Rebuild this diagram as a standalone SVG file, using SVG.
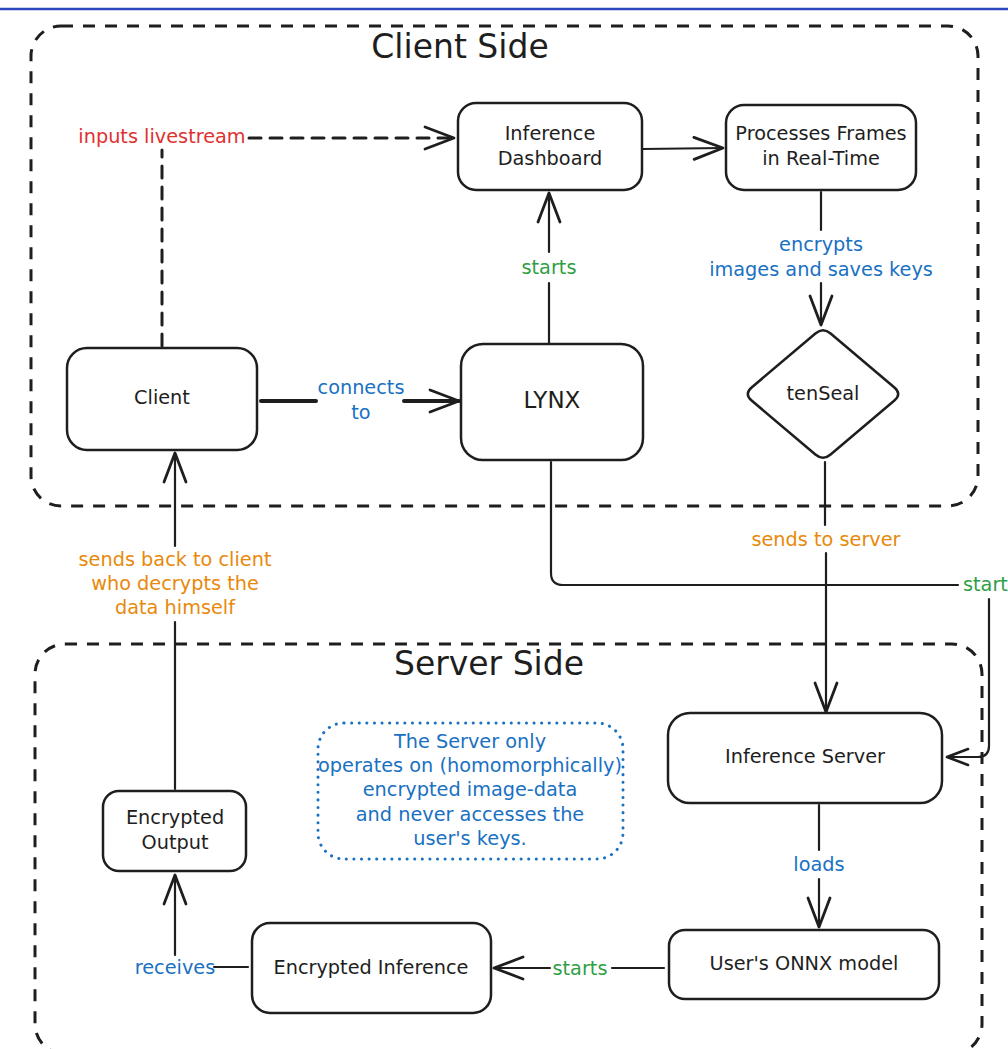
<svg xmlns="http://www.w3.org/2000/svg" width="1008" height="1049" viewBox="0 0 1008 1049">
<style>
text{font-family:"DejaVu Sans","Noto Sans",sans-serif;font-size:19.3px;text-anchor:middle;dominant-baseline:central;fill:#1e1e1e}
.node{fill:#fff;stroke:#1e1e1e;stroke-width:2.5}
.cont{fill:none;stroke:#1e1e1e;stroke-width:3;stroke-dasharray:12 10}
.edge{fill:none;stroke:#1e1e1e;stroke-width:2.2;stroke-linecap:round;stroke-linejoin:round}
.dash{stroke-dasharray:12 9;stroke-width:3}
.blue{fill:#1971c2}.green{fill:#2f9e44}.orange{fill:#e8890c}.red{fill:#e03131}
.title{font-size:33px}
</style>
<defs>
<marker id="arr" markerUnits="userSpaceOnUse" markerWidth="60" markerHeight="60" refX="0" refY="0" viewBox="-30 -30 60 60" orient="auto" overflow="visible">
<path d="M-29,-11 L0,0 L-29,11" fill="none" stroke="#1e1e1e" stroke-width="2.8" stroke-linecap="round" stroke-linejoin="round" stroke-dasharray="none"/>
</marker>
<marker id="arrs" markerUnits="userSpaceOnUse" markerWidth="60" markerHeight="60" refX="0" refY="0" viewBox="-30 -30 60 60" orient="auto" overflow="visible">
<path d="M-21,-8 L0,0 L-21,8" fill="none" stroke="#1e1e1e" stroke-width="2.6" stroke-linecap="round" stroke-linejoin="round" stroke-dasharray="none"/>
</marker>
</defs>
<rect width="1008" height="1049" fill="#fff"/>
<line x1="0" y1="9" x2="1008" y2="9" stroke="#2b48bf" stroke-width="2.5"/>

<g id="client-side">
<rect class="cont" x="31" y="26" width="947" height="480" rx="30"/>
<text class="title" x="460" y="46">Client Side</text>
</g>
<g id="server-side">
<rect class="cont" x="35" y="644" width="947" height="410" rx="30"/>
<text class="title" x="489" y="663">Server Side</text>
</g>

<g id="connectors">
<path class="edge dash" d="M162,346 V150"/>
<path class="edge dash" d="M249,138 H454" marker-end="url(#arr)"/>
<text class="red" x="162" y="136">inputs livestream</text>

<path class="edge" d="M643,149 L723,148" marker-end="url(#arr)"/>

<path class="edge" d="M821,192 V230"/>
<path class="edge" d="M821,283 V325" marker-end="url(#arr)"/>
<text class="blue"><tspan x="821" y="244">encrypts</tspan><tspan x="821" y="269">images and saves keys</tspan></text>

<path class="edge" style="stroke-width:4" d="M261,401 H316"/>
<path class="edge" style="stroke-width:4" d="M404,401 H459" marker-end="url(#arr)"/>
<text class="blue"><tspan x="361" y="387">connects</tspan><tspan x="361" y="412">to</tspan></text>

<path class="edge" d="M549,343 V283"/>
<path class="edge" d="M549,252 V193" marker-end="url(#arr)"/>
<text class="green" x="549" y="267">starts</text>

<path class="edge" d="M825,462 V525"/>
<path class="edge" d="M826,553 V712" marker-end="url(#arr)"/>
<text class="orange" x="826" y="539">sends to server</text>

<path class="edge" d="M551,462 V573 Q551,585 563,585 H958"/>
<path class="edge" d="M989,599 V746 Q989,757 978,757 H947" marker-end="url(#arrs)"/>
<text class="green" x="963" y="584" style="text-anchor:start">start</text>

<path class="edge" d="M819,805 V850"/>
<path class="edge" d="M819,879 V927" marker-end="url(#arr)"/>
<text class="blue" x="819" y="864">loads</text>

<path class="edge" d="M664,968 H612"/>
<path class="edge" d="M550,968 H494" marker-end="url(#arr)"/>
<text class="green" x="580" y="968">starts</text>

<path class="edge" d="M248,967 H214"/>
<path class="edge" d="M175,955 V875" marker-end="url(#arr)"/>
<text class="blue" x="175" y="967">receives</text>

<path class="edge" d="M175,789 V622"/>
<path class="edge" d="M175,546 V453" marker-end="url(#arr)"/>
<text class="orange"><tspan x="175" y="559">sends back to client</tspan><tspan x="175" y="583">who decrypts the</tspan><tspan x="175" y="607">data himself</tspan></text>
</g>

<g id="inference-dashboard">
<rect class="node" x="458" y="103" width="184" height="87" rx="18"/>
<text><tspan x="550" y="133">Inference</tspan><tspan x="550" y="158">Dashboard</tspan></text>
</g>
<g id="processes-frames">
<rect class="node" x="726" y="105" width="190" height="85" rx="18"/>
<text><tspan x="821" y="133">Processes Frames</tspan><tspan x="821" y="158">in Real-Time</tspan></text>
</g>
<g id="client">
<rect class="node" x="67" y="348" width="190" height="102" rx="20"/>
<text x="162" y="397">Client</text>
</g>
<g id="lynx">
<rect class="node" x="461" y="344" width="182" height="116" rx="22"/>
<text x="552" y="400" style="font-size:23px">LYNX</text>
</g>
<g id="tenseal">
<path class="node" d="M815.4,333.5 Q823,327 830.6,333.5 L894.4,387.5 Q902,394 894.4,400.5 L830.6,454.5 Q823,461 815.4,454.5 L751.6,400.5 Q744,394 751.6,387.5 Z"/>
<text x="823" y="393">tenSeal</text>
</g>
<g id="inference-server">
<rect class="node" x="668" y="713" width="274" height="90" rx="22"/>
<text x="805" y="756">Inference Server</text>
</g>
<g id="onnx-model">
<rect class="node" x="669" y="930" width="270" height="69" rx="16"/>
<text x="804" y="963">User's ONNX model</text>
</g>
<g id="encrypted-inference">
<rect class="node" x="252" y="923" width="239" height="90" rx="18"/>
<text x="371" y="967">Encrypted Inference</text>
</g>
<g id="encrypted-output">
<rect class="node" x="103" y="791" width="143" height="80" rx="16"/>
<text><tspan x="175" y="817">Encrypted</tspan><tspan x="175" y="842">Output</tspan></text>
</g>
<g id="note">
<rect x="318" y="723" width="305" height="136" rx="26" fill="none" stroke="#1971c2" stroke-width="3" stroke-dasharray="0.1 7.5" stroke-linecap="round"/>
<text class="blue"><tspan x="470" y="741">The Server only</tspan><tspan x="470" y="765">operates on (homomorphically)</tspan><tspan x="470" y="789">encrypted image-data</tspan><tspan x="470" y="814">and never accesses the</tspan><tspan x="470" y="838">user's keys.</tspan></text>
</g>
</svg>
